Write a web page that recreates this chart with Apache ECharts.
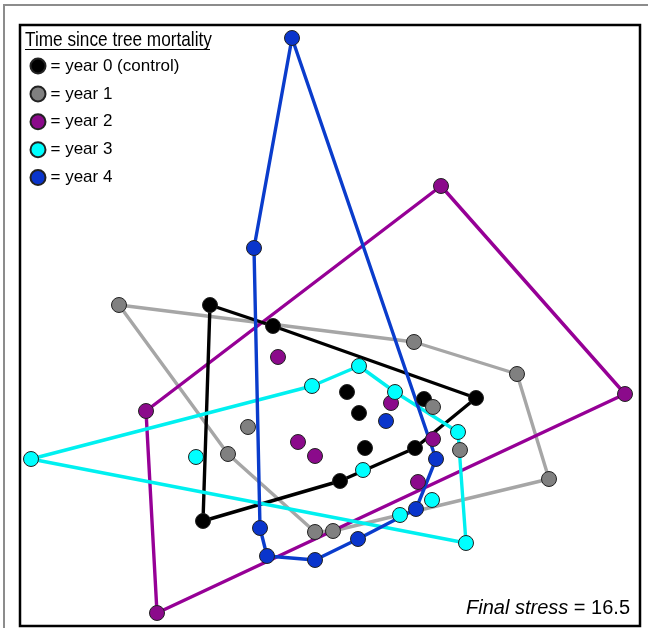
<!DOCTYPE html>
<html>
<head>
    <meta http-equiv="Content-Type" content="text/html; charset=utf-8" />
    <script src="https://cdn.jsdelivr.net/npm/echarts@6/dist/echarts.min.js"></script>
    <title></title>
    <style>
        body { margin: 0; background: #fff; }
    </style>
</head>
<body>
    <div id="main" style="width: 648px; height: 628px;"></div>
    <script type="text/javascript">
        // NMDS scores (plot units, y grows downward)
        var groupNames = ['year 0 (control)', 'year 1', 'year 2', 'year 3', 'year 4'];

        // hull vertices, in drawing order
        var year0Hull = [[210, 305], [273, 326], [476, 398], [415, 448], [340, 481], [203, 521]];
        var year1Hull = [[119, 305], [414, 342], [517, 374], [549, 479], [333, 531], [315, 532], [228, 454]];
        var year2Hull = [[146, 411], [441, 186], [625, 394], [157, 613]];
        var year3Hull = [[31, 459], [312, 386], [359, 366], [395, 392], [458, 432], [466, 543]];
        var year4Hull = [[292, 38], [436, 459], [416, 509], [358, 539], [315, 560], [267, 556], [260, 528], [254, 248]];

        // points inside the hulls
        var year0Inner = [[347, 392], [359, 413], [424, 399], [365, 448]];
        var year1Inner = [[248, 427], [433, 407], [460, 450]];
        var year2Inner = [[278, 357], [298, 442], [315, 456], [391, 403], [433, 439], [418, 482]];
        var year3Inner = [[196, 457], [363, 470], [432, 500], [400, 515]];
        var year4Inner = [[386, 421]];

        var hulls = [year0Hull, year1Hull, year2Hull, year3Hull, year4Hull];
        var inners = [year0Inner, year1Inner, year2Inner, year3Inner, year4Inner];

        var pointColors = ['#000000', '#808080', '#8b0a8b', '#00ffff', '#0a35cc'];
        var lineColors = ['#000000', '#a6a6a6', '#960096', '#00f0f0', '#0a3ccc'];
        var lineOrder = [1, 2, 0, 3, 4];

        var myChart = echarts.init(document.getElementById('main'));

        var series = [];
        // hull outlines first, so the points sit on top
        for (var k = 0; k < lineOrder.length; k++) {
            var i = lineOrder[k];
            var ring = hulls[i].slice();
            ring.push(hulls[i][0]);
            series.push({
                name: 'hull ' + groupNames[i],
                type: 'line',
                data: ring,
                symbol: 'none',
                silent: true,
                z: 2,
                lineStyle: { color: lineColors[i], width: 3.4, join: 'round' }
            });
        }
        for (var i = 0; i < groupNames.length; i++) {
            series.push({
                name: groupNames[i],
                type: 'scatter',
                data: hulls[i].concat(inners[i]),
                symbol: 'circle',
                symbolSize: 15,
                z: 3 + i,
                itemStyle: {
                    color: pointColors[i],
                    borderColor: '#222',
                    borderWidth: 1,
                    opacity: 1
                }
            });
        }

        var option = {
            animation: false,
            backgroundColor: '#fff',
            grid: { left: 0, right: 0, top: 0, bottom: 0 },
            xAxis: { type: 'value', min: 0, max: 648, show: false },
            yAxis: { type: 'value', min: 0, max: 628, inverse: true, show: false },
            legend: {
                data: groupNames,
                orient: 'vertical',
                left: 29.5,
                top: 57.5,
                padding: 0,
                icon: 'circle',
                itemWidth: 15,
                itemHeight: 15,
                itemGap: 10.9,
                formatter: function (name) { return '= ' + name; },
                textStyle: { fontFamily: '"Liberation Sans", Arial', fontSize: 17, color: '#000' },
                selectedMode: false
            },
            graphic: [
                // outer grey frame
                { type: 'rect', shape: { x: 4, y: 5, width: 700, height: 700 }, style: { fill: null, stroke: '#8c8c8c', lineWidth: 2 }, z: 0 },
                // inner black box
                { type: 'rect', shape: { x: 20, y: 25, width: 620, height: 601 }, style: { fill: null, stroke: '#000', lineWidth: 2.5 }, z: 10 },
                {
                    type: 'text', x: 25, y: 30, scaleX: 0.82, z: 10,
                    style: { text: 'Time since tree mortality', font: '21px "Liberation Sans", Arial', fill: '#000' }
                },
                { type: 'line', shape: { x1: 25, y1: 49.5, x2: 210, y2: 49.5 }, style: { stroke: '#000', lineWidth: 1 }, z: 10 },
                {
                    type: 'text', right: 18, top: 598, z: 10,
                    style: {
                        text: '{i|Final stress} = 16.5',
                        font: '20px "Liberation Sans", Arial',
                        fill: '#000',
                        rich: { i: { fontStyle: 'italic', fontSize: 20, fontFamily: 'Liberation Sans' } }
                    }
                }
            ],
            series: series
        };
        myChart.setOption(option);
    </script>
</body>
</html>
